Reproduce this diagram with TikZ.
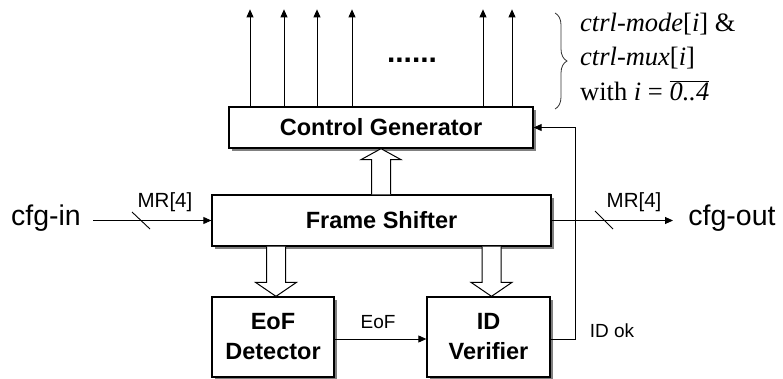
\documentclass[tikz,border=0pt]{standalone}
\usepackage{fontspec}
\setmainfont{Liberation Serif}
\setsansfont{Liberation Sans}
\usetikzlibrary{arrows.meta,shadows,decorations.pathreplacing,calc}
\newcommand{\hollowdown}[3]{%
  \draw[hollow] let \p1=(#1), \p2=(#2) in
    (\x2-9.5pt,\y1) -- (\x2-9.5pt,\y2+#3) -- (\x2-20.5pt,\y2+#3) -- (\x2,\y2)
    -- (\x2+20.5pt,\y2+#3) -- (\x2+9.5pt,\y2+#3) -- (\x2+9.5pt,\y1);}
\newcommand{\hollowup}[3]{%
  \draw[hollow] let \p1=(#1), \p2=(#2) in
    (\x2-9.5pt,\y1) -- (\x2-9.5pt,\y2-#3) -- (\x2-20pt,\y2-#3) -- (\x2,\y2)
    -- (\x2+20pt,\y2-#3) -- (\x2+9.5pt,\y2-#3) -- (\x2+9.5pt,\y1);}
\begin{document}
\begin{tikzpicture}[x=1pt,y=-1pt,
  box/.style={draw,line width=1.3pt,fill=white,inner sep=0pt,align=center,
    font=\sffamily\bfseries\fontsize{23.5}{30}\selectfont,
    drop shadow={shadow xshift=2.5pt,shadow yshift=-2.5pt,fill=black!50,opacity=1}},
  conn/.style={line width=0.9pt},
  arr/.style={-{Triangle[length=8pt,width=7pt]}},
  hollow/.style={line width=1pt,fill=white},
  biglabel/.style={font=\sffamily\fontsize{28.5}{32}\selectfont,inner sep=0pt,anchor=base},
  buslabel/.style={font=\sffamily\fontsize{20.5}{22}\selectfont,inner sep=0pt,anchor=base},
  siglabel/.style={font=\sffamily\fontsize{19}{21}\selectfont,inner sep=0pt,anchor=base},
  notelabel/.style={font=\rmfamily\fontsize{26.5}{28}\selectfont,inner sep=0pt,anchor=base west}]
\useasboundingbox (0,0) rectangle (783,378);

% boxes
\node[box,minimum width=304pt,minimum height=41pt] (CG) at (381,127.5) {Control Generator};
\node[box,minimum width=339pt,minimum height=51pt] (FS) at (381.5,220.5) {Frame Shifter};
\node[box,minimum width=122pt,minimum height=80pt] (EoF) at (273,337) {EoF\\Detector};
\node[box,minimum width=123pt,minimum height=80pt] (IDV) at (488.5,337) {ID\\Verifier};

% output arrows
\foreach \xx in {250,284,317,352,483,512}
  \draw[conn,arr] (CG.north -| \xx,0) -- ++(0,-97);
\node[font=\sffamily\bfseries\fontsize{30}{32}\selectfont,inner sep=0pt,anchor=base] (dots) at (412,62) {......};

% brace and note
\draw[black!80,line width=0.8pt,decorate,decoration={brace,amplitude=12pt}] (555,13) -- (555,109);
\node[notelabel] (n1) at (580,31) {\itshape ctrl-mode\upshape[\itshape i\upshape] \&};
\node[notelabel] (n2) at (580,65) {\itshape ctrl-mux\upshape[\itshape i\upshape]};
\node[notelabel] (n3) at (580,100) {with \itshape i \upshape= $\overline{\hbox{\itshape 0..4}}$};

% hollow arrows
\hollowup{FS.north}{CG.south}{11pt}
\hollowdown{FS.south}{[xshift=3pt]EoF.north}{14pt}
\hollowdown{FS.south}{[xshift=3pt]IDV.north}{14pt}

% cfg in / out
\node[biglabel] (cfgin) at (46,225) {cfg-in};
\coordinate (inS) at (93,220.5);
\draw[conn,arr] (inS) -- (inS -| FS.west);
\draw[conn] (132,212) -- (150,229);
\node[buslabel] (mrin) at (165,207) {MR[4]};

\node[biglabel] (cfgout) at (732,225) {cfg-out};
\coordinate (outE) at (673,220.5);
\draw[conn,arr] (FS.east) -- (outE);
\draw[conn] (595,211) -- (613,229);
\node[buslabel] (mrout) at (634,207) {MR[4]};

% EoF signal
\draw[conn,arr] ([yshift=-2pt]EoF.east) -- ([yshift=-2pt]IDV.west);
\node[siglabel] (eoflbl) at (378,328) {EoF};

% feedback
\draw[conn,arr] ([yshift=-2pt]IDV.east) -- ++(25,0) |- (CG.east);
\node[siglabel] (idok) at (612,337) {ID ok};
\end{tikzpicture}
\end{document}
